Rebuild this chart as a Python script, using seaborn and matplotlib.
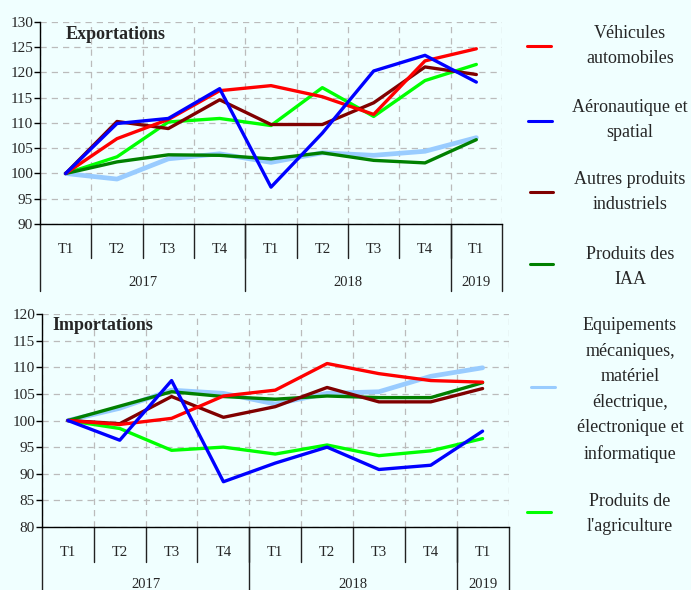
import matplotlib
matplotlib.use("Agg")
import matplotlib.pyplot as plt
from matplotlib.lines import Line2D
import seaborn as sns
import numpy as np
import pandas as pd

# --- data (indices, base 100 = T1 2017) ---
quarters = ["T1", "T2", "T3", "T4", "T1", "T2", "T3", "T4", "T1"]
years = ["2017", "2017", "2017", "2017", "2018", "2018", "2018", "2018", "2019"]

labels = [
    "Véhicules\nautomobiles",
    "Aéronautique et\nspatial",
    "Autres produits\nindustriels",
    "Produits des\nIAA",
    "Equipements\nmécaniques,\nmatériel\nélectrique,\nélectronique et\ninformatique",
    "Produits de\nl'agriculture",
]
colors = ["#FF0000", "#0000FF", "#800000", "#008000", "#99CCFF", "#00FF00"]
widths = [2.4, 2.4, 2.4, 2.4, 3.4, 2.4]

exp_vehicules = [100, 106.9, 110.7, 116.4, 117.4, 115.2, 111.7, 122.3, 124.7]
exp_aero = [100, 109.9, 110.9, 116.8, 97.3, 108.0, 120.3, 123.4, 118.1]
exp_autres = [100, 110.3, 108.9, 114.6, 109.7, 109.7, 114.0, 121.1, 119.6]
exp_iaa = [100, 102.3, 103.7, 103.6, 102.9, 104.1, 102.6, 102.1, 106.7]
exp_equip = [100, 98.9, 102.9, 103.9, 102.2, 104.1, 103.6, 104.4, 107.1]
exp_agri = [100, 103.3, 110.2, 110.9, 109.5, 117.0, 111.3, 118.4, 121.6]

imp_vehicules = [100, 99.25, 100.4, 104.6, 105.7, 110.7, 108.8, 107.5, 107.2]
imp_aero = [100, 96.3, 107.5, 88.5, 92.0, 95.0, 90.8, 91.6, 98.0]
imp_autres = [100, 99.4, 104.5, 100.6, 102.6, 106.2, 103.5, 103.5, 106.0]
imp_iaa = [100, 102.7, 105.4, 104.5, 104.0, 104.6, 104.3, 104.3, 107.1]
imp_equip = [100, 102.3, 105.7, 105.1, 103.1, 105.1, 105.4, 108.3, 109.9]
imp_agri = [100, 98.5, 94.4, 95.0, 93.7, 95.4, 93.4, 94.3, 96.6]

exports = [exp_vehicules, exp_aero, exp_autres, exp_iaa, exp_equip, exp_agri]
imports = [imp_vehicules, imp_aero, imp_autres, imp_iaa, imp_equip, imp_agri]

periods = [f"{y} {q}" for y, q in zip(years, quarters)]
draw_order = [5, 4, 3, 2, 0, 1]

BG = "#F0FFFF"
sns.set_theme(style="white")
plt.rcParams["font.family"] = ["Liberation Serif", "DejaVu Serif"]

fig = plt.figure(figsize=(6.91, 5.90), dpi=100, facecolor=BG)


def long_df(values):
    rows = []
    for lab, vals in zip(labels, values):
        for p, v in zip(periods, vals):
            rows.append({"Période": p, "Série": lab, "Indice": v})
    return pd.DataFrame(rows)


def panel(rect, values, ylim, title, title_xy, sep1, sep2, qy, yy):
    ax = fig.add_axes(rect)
    ax.set_facecolor(BG)
    df = long_df(values)
    for i in draw_order:
        sub = df[df["Série"] == labels[i]]
        sns.lineplot(data=sub, x="Période", y="Indice", color=colors[i],
                     lw=widths[i], sort=False, ax=ax)
    ax.set_xlim(-0.5, 8.5)
    ax.set_ylim(*ylim)
    ax.set_yticks(np.arange(ylim[0], ylim[1] + 1, 5))
    ax.set_xlabel("")
    ax.set_ylabel("")
    ax.set_xticks(range(9))
    ax.set_xticklabels([])
    ax.set_xticks(np.arange(-0.5, 9, 1), minor=True)
    ax.tick_params(axis="x", which="both", length=0)
    ax.tick_params(axis="y", which="major", length=4, width=1, color="black",
                   direction="out", labelsize=11, pad=1, left=True)
    ax.grid(True, which="major", axis="y", color="#BBBBBB", ls=(0, (5, 4)), lw=0.9)
    ax.grid(True, which="minor", axis="x", color="#BBBBBB", ls=(0, (5, 4)), lw=0.9)
    ax.grid(False, which="major", axis="x")
    for s in ["top", "right"]:
        ax.spines[s].set_visible(False)
    for s in ["left", "bottom"]:
        ax.spines[s].set_color("black")
        ax.spines[s].set_linewidth(1)

    tr = ax.get_xaxis_transform()
    # quarter separators and labels
    for b in np.arange(0.5, 8, 1):
        ax.plot([b, b], [0, sep1], color="#222222", lw=1, transform=tr, clip_on=False)
    for i, q in enumerate(quarters):
        ax.text(i, qy, q, transform=tr, ha="center", va="center", fontsize=10.5)
    # year separators and labels
    for b in [-0.5, 3.5, 7.5, 8.5]:
        ax.plot([b, b], [0, sep2], color="#222222", lw=1, transform=tr, clip_on=False)
    year_list = list(dict.fromkeys(years))
    for y in year_list:
        idx = [k for k, yy_ in enumerate(years) if yy_ == y]
        ax.text(np.mean(idx), yy, y, transform=tr, ha="center", va="center", fontsize=10.5)

    ax.text(title_xy[0], title_xy[1], title, transform=ax.transAxes, ha="left",
            va="center", fontsize=13, fontweight="bold")
    return ax


W, H = 691, 590
panel([40 / W, (H - 224) / H, 462 / W, 202 / H], exports, (90, 130), "Exportations",
      (0.056, 0.936), -0.168, -0.33, -0.125, -0.292)
panel([42 / W, (H - 527) / H, 466.5 / W, 213 / H], imports, (80, 120), "Importations",
      (0.023, 0.944), -0.165, -0.3, -0.118, -0.268)

# legend, built by hand to follow the reference spacing
leg_y = [46, 120, 192, 267, 390, 514]
line_y = [46, 121, 192, 264, 387, 512]
line_x = [[527, 551], [528, 552], [530, 553], [530, 553], [531, 555], [527, 551]]
for lab, c, y, lyp, lx in zip(labels, colors, leg_y, line_y, line_x):
    ly = 1 - lyp / H
    fig.add_artist(Line2D([lx[0] / W, lx[1] / W], [ly, ly], color=c, lw=2.2))
    fig.text(630 / W, 1 - y / H, lab, ha="center", va="center", fontsize=13,
             linespacing=1.65, multialignment="center")

fig.savefig("out.png", dpi=100, facecolor=BG)
